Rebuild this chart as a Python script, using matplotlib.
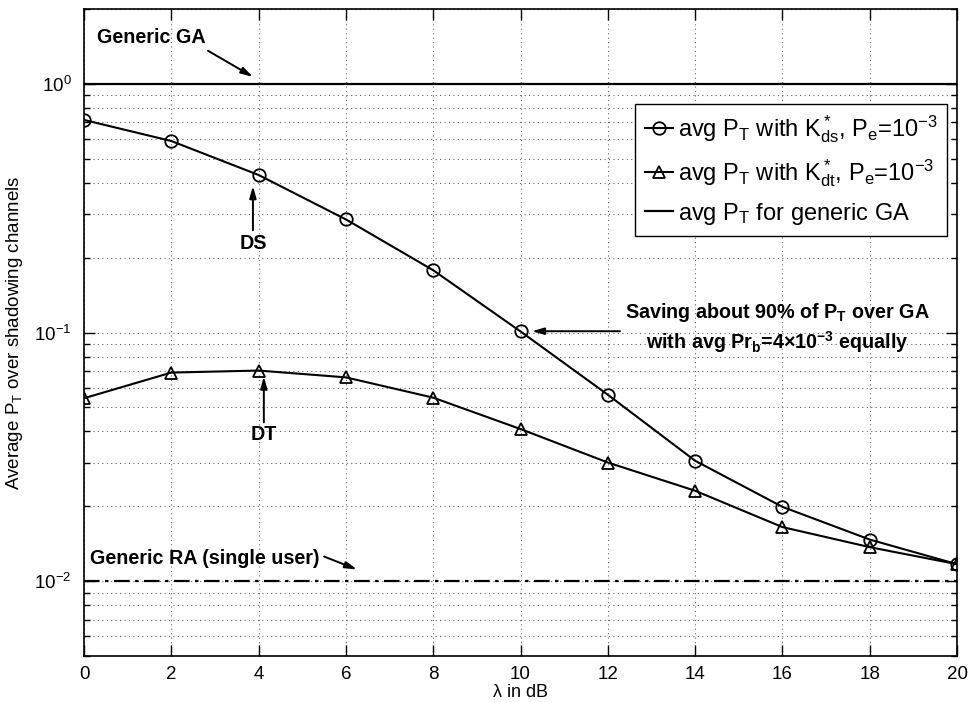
import numpy as np
import matplotlib
matplotlib.use('Agg')
import matplotlib.pyplot as plt

plt.rcParams['font.family'] = ['Liberation Sans', 'DejaVu Sans']
plt.rcParams['mathtext.default'] = 'regular'

# values
lam = [0, 2, 4, 6, 8, 10, 12, 14, 16, 18, 20]
pt_ds = [0.716, 0.589, 0.430, 0.285, 0.178, 0.101, 0.0562, 0.0305, 0.0199, 0.0147, 0.0117]
pt_dt = [0.0544, 0.069, 0.0703, 0.066, 0.0547, 0.0409, 0.030, 0.0231, 0.0165, 0.0137, 0.0117]
pt_ga = 1.0
pt_ra = 0.01

fig = plt.figure(figsize=(9.69, 7.02), dpi=100)
ax = fig.add_axes([84/969, 1-656/702, 873/969, 647/702])

l1, = ax.semilogy(lam, pt_ds, 'k-o', lw=1.5, ms=9, mfc='none', mew=1.3)
l2, = ax.semilogy(lam, pt_dt, 'k-^', lw=1.5, ms=9, mfc='none', mew=1.3)
l3 = ax.axhline(pt_ga, color='k', lw=1.6)
ax.axhline(pt_ra, color='k', lw=1.6, ls=(0, (7, 2.5, 1.5, 2.5)))

ax.set_xlim(0, 20)
ax.set_ylim(0.005, 2)
ax.set_xticks(lam)
grid_ls = (0, (1, 3))
ax.grid(True, which='major', ls=grid_ls, color='0.4', lw=0.8)
ax.grid(True, which='minor', axis='y', ls=grid_ls, color='0.4', lw=0.8)
ax.tick_params(which='both', direction='in', top=True, right=True, labelsize=13.5, width=1)
ax.tick_params(which='major', length=8)
ax.tick_params(which='minor', length=4)
ax.tick_params(axis='x', pad=7)
ax.tick_params(axis='y', pad=9)
for s in ax.spines.values():
    s.set_linewidth(1.2)

ax.set_xlabel(r'$\lambda$ in dB', fontsize=13, labelpad=1)
ax.set_ylabel(r'Average P$_T$ over shadowing channels', fontsize=13.5)
ax.yaxis.set_label_coords(-0.068, 0.5)

leg = ax.legend([l1, l2, l3],
                [r'avg P$_T$ with K$^*_{ds}$, P$_e$=10$^{-3}$',
                 r'avg P$_T$ with K$^*_{dt}$, P$_e$=10$^{-3}$',
                 r'avg P$_T$ for generic GA'],
                loc='lower right', bbox_to_anchor=(0.9886, 0.649),
                fontsize=17, fancybox=False, framealpha=1, edgecolor='k',
                handlelength=1.2, handletextpad=0.2, borderaxespad=0,
                labelspacing=0.5, borderpad=0.4)
leg.get_frame().set_linewidth(1.0)

arw = dict(arrowstyle='-|>,head_length=0.7,head_width=0.2', color='k', lw=1.4,
           shrinkA=0, shrinkB=0)

# annotations
fs = 14.2
ax.text(0.3, 1.533, 'Generic GA', fontsize=fs, fontweight='bold', va='center')
ax.annotate('', xy=(3.87, 1.067), xytext=(2.84, 1.359), arrowprops=arw)

ax.text(0.137, 0.01239, 'Generic RA (single user)', fontsize=fs, fontweight='bold', va='center')
ax.annotate('', xy=(6.254, 0.01114), xytext=(5.50, 0.01256), arrowprops=arw)

ax.text(3.87, 0.229, 'DS', fontsize=fs, fontweight='bold', ha='center', va='center')
ax.annotate('', xy=(3.87, 0.388), xytext=(3.87, 0.2577), arrowprops=arw)

ax.text(4.12, 0.039, 'DT', fontsize=fs, fontweight='bold', ha='center', va='center')
ax.annotate('', xy=(4.12, 0.0665), xytext=(4.12, 0.0435), arrowprops=arw)

ax.text(15.88, 0.1208, r'Saving about 90% of P$_T$ over GA', fontsize=fs,
        fontweight='bold', ha='center', va='center')
ax.text(15.88, 0.0914, r'with avg Pr$_b$=4$\times$10$^{-3}$ equally', fontsize=fs,
        fontweight='bold', ha='center', va='center')
ax.annotate('', xy=(10.26, 0.1012), xytext=(12.28, 0.1012), arrowprops=arw)

fig.savefig('out.png', dpi=100)
